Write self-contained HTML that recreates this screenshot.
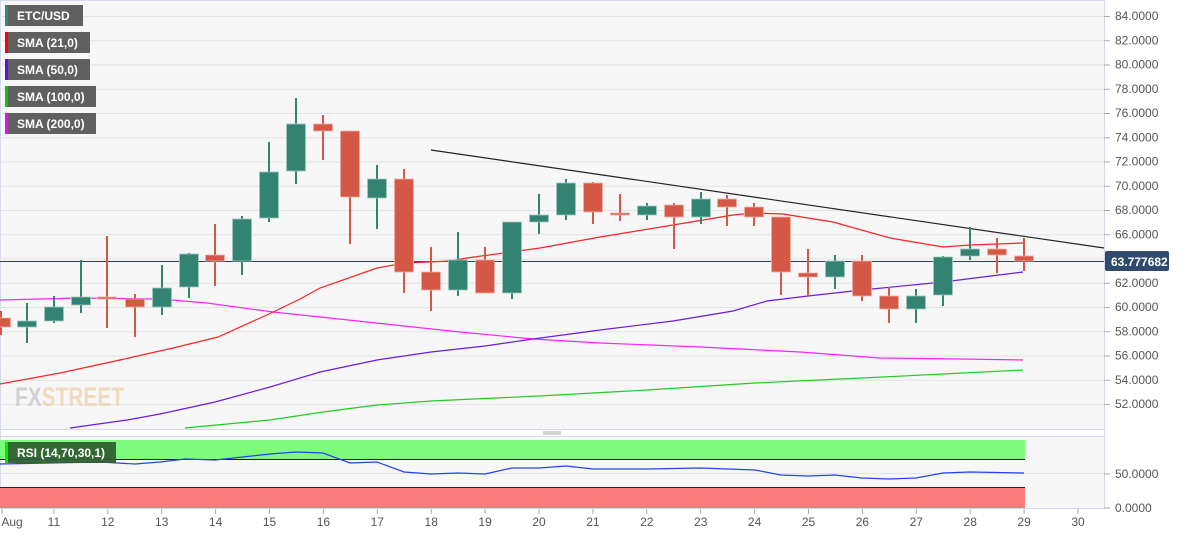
<!DOCTYPE html>
<html><head><style>
body{margin:0;background:#fff;font-family:"Liberation Sans",sans-serif;}
svg text{font-family:"Liberation Sans",sans-serif;}
</style></head><body>
<svg width="1194" height="535" xmlns="http://www.w3.org/2000/svg">
<rect x="0" y="0" width="1104" height="429" fill="#f7f7f7"/>
<rect x="0" y="437" width="1104" height="72" fill="#f7f7f7"/>
<line x1="0" y1="0.5" x2="1104" y2="0.5" stroke="#d5dbe8"/>
<line x1="0.5" y1="0" x2="0.5" y2="509" stroke="#d5dbe8"/>
<line x1="1104.5" y1="0" x2="1104.5" y2="509" stroke="#d5dbe8"/>
<line x1="0" y1="429.5" x2="1104" y2="429.5" stroke="#d5dbe8"/>
<line x1="0" y1="436.5" x2="1104" y2="436.5" stroke="#d5dbe8"/>
<g stroke="#aaa"><line x1="543" y1="432" x2="561" y2="432"/><line x1="543" y1="434" x2="561" y2="434"/></g>
<g id="grid" stroke="#e3e3e3" stroke-width="1"></g>
<g id="ylab" font-size="12" fill="#555"></g>
<text x="15" y="406" font-size="27" font-weight="bold" fill="#cfcfcf" opacity="0.9" textLength="109" lengthAdjust="spacingAndGlyphs">FX<tspan fill="#efd9b8">STREET</tspan></text>
<line x1="0" y1="261.5" x2="1104" y2="261.5" stroke="#2c4162" stroke-width="1"/>
<polyline fill="none" stroke="#ff22ff" stroke-width="1.2" points="0,300 80,298 160,299 207,303 273,312 367,322 450,331 533,339 600,343 700,347 800,352 880,358 960,359 1023,360"/>
<polyline fill="none" stroke="#22cc22" stroke-width="1.2" points="185,428 270,420 323,412 377,405 431,401 539,396 647,390 755,383 862,378 943,374 1023,370"/>
<polyline fill="none" stroke="#6a1be8" stroke-width="1.2" points="70,428 127,420 160,414 215,402 270,387 320,372 377,360 431,352 485,346 533,339 600,330 673,321 733,311 767,301 808,296 862,290 943,282 1023,272"/>
<polyline fill="none" stroke="#ff2222" stroke-width="1.2" points="0,384 60,373 120,360 173,348 218,337 269,314 300,299 320,288 377,268 405,263 450,261 467,258 540,248 600,237 673,225 733,215 753,213 783,214 833,222 890,238 943,247 970,245 1023,243"/>
<line x1="431" y1="150" x2="1104" y2="248" stroke="#222" stroke-width="1.2"/>
<g id="candles"></g>
<rect x="1105" y="251" width="64" height="20" rx="2" fill="#2f4a6d"/>
<text x="1111" y="266" font-size="12" font-weight="bold" fill="#fff">63.777682</text>
<g font-size="12" font-weight="bold" fill="#fff">
<rect x="5" y="5" width="78" height="21" fill="#606060"/><rect x="5" y="5" width="3" height="21" fill="#2f8a74"/><text x="17" y="20">ETC/USD</text>
<rect x="5" y="32" width="85" height="21" fill="#606060"/><rect x="5" y="32" width="3" height="21" fill="#ff0000"/><text x="17" y="47">SMA (21,0)</text>
<rect x="5" y="59" width="85" height="21" fill="#606060"/><rect x="5" y="59" width="3" height="21" fill="#5a10e8"/><text x="17" y="74">SMA (50,0)</text>
<rect x="5" y="86" width="91" height="21" fill="#606060"/><rect x="5" y="86" width="3" height="21" fill="#00cc00"/><text x="17" y="101">SMA (100,0)</text>
<rect x="5" y="113" width="91" height="21" fill="#606060"/><rect x="5" y="113" width="3" height="21" fill="#ff00ff"/><text x="17" y="128">SMA (200,0)</text>
</g>
<rect x="0" y="440" width="1025" height="19" fill="#7dfb7d"/>
<line x1="0" y1="459.5" x2="1025" y2="459.5" stroke="#222"/>
<line x1="0" y1="473.5" x2="1104" y2="473.5" stroke="#e3e3e3"/>
<rect x="0" y="488" width="1025" height="20" fill="#fa7b7b"/>
<line x1="0" y1="487.5" x2="1025" y2="487.5" stroke="#222"/>
<polyline fill="none" stroke="#2244ee" stroke-width="1.2" points="0,464 50,463 100,462 135,464 160,462 185,459 215,460 270,454 296,452 323,453 350,463 377,462 404,472 431,474 458,473 485,474 512,468 539,468 566,466 593,469 647,469 701,468 755,470 781,475 808,476 835,475 862,478 889,479 916,478 943,473 970,472 1024,473"/>
<rect x="5" y="442" width="111" height="21" fill="#2f5f2f" opacity="0.95"/><rect x="5" y="442" width="3" height="21" fill="#00ee00"/>
<text x="17" y="457" font-size="12" font-weight="bold" fill="#fff">RSI (14,70,30,1)</text>
<g font-size="12" fill="#555"><text x="1115" y="478">50.0000</text><text x="1115" y="512">0.0000</text></g>
<g stroke="#aaa"><line x1="1104" y1="474" x2="1110" y2="474"/><line x1="1104" y1="508" x2="1110" y2="508"/></g>
<line x1="0" y1="508.5" x2="1104" y2="508.5" stroke="#d5dbe8"/>
<g id="xlab" font-size="12" fill="#555" text-anchor="middle"></g>
</svg>
<script>
var ns="http://www.w3.org/2000/svg";
function el(p,t,a,txt){var e=document.createElementNS(ns,t);for(var k in a)e.setAttribute(k,a[k]);if(txt!=null)e.textContent=txt;document.getElementById(p).appendChild(e);}
for(var v=52;v<=84;v+=2){var y=16+(84-v)*12.125;el("grid","line",{x1:0,x2:1104,y1:y+.5,y2:y+.5});el("grid","line",{x1:1104,x2:1110,y1:y+.5,y2:y+.5,stroke:"#aaa"});el("ylab","text",{x:1115,y:y+4},v.toFixed(4));}
var days=["Aug","11","12","13","14","15","16","17","18","19","20","21","22","23","24","25","26","27","28","29","30"];
for(var i=0;i<days.length;i++){var x=i==0?2:0+i*53.9;el("xlab","line",{x1:x,x2:x,y1:509,y2:514,stroke:"#aaa"});el("xlab","text",{x:i==0?12:x,y:526},days[i]);}
var C=[[1,311,318,327,335,0],[27,303,321,327,343,1],[54,296,307,321,323,1],[81,260,297,305,313,1],[107,236,297,299,328,0],[135,294,299,307,337,0],[162,265,288,307,315,1],[189,253,254,287,298,1],[215,224,255,261,286,0],[242,216,219,261,275,1],[269,142,172,218,222,1],[296,98,124,171,184,1],[323,115,124,131,160,0],[350,131,131,197,244,0],[377,165,179,198,229,1],[404,169,179,272,293,0],[431,247,272,290,311,0],[458,232,260,290,296,1],[485,247,260,293,293,0],[512,222,222,293,299,1],[539,194,215,222,234,1],[566,179,183,215,220,1],[593,182,183,212,224,0],[620,194,213,215,221,0],[647,203,206,215,220,1],[674,203,205,217,249,0],[701,192,199,217,224,1],[727,195,199,207,226,0],[754,203,207,217,226,0],[781,217,217,272,295,0],[808,249,273,277,296,0],[835,255,261,277,289,1],[862,255,261,296,301,0],[889,287,296,309,323,0],[916,289,296,309,323,1],[943,256,257,295,306,1],[970,227,249,256,260,1],[997,238,249,255,273,0],[1024,238,256,261,271,0]];
C.forEach(function(c){var col=c[5]?"#338373":"#d55846";el("candles","line",{x1:c[0],x2:c[0],y1:c[1],y2:c[4],stroke:col,"stroke-width":2});el("candles","rect",{x:c[0]-9.5,y:c[2],width:19,height:Math.max(2,c[3]-c[2]),fill:col,stroke:c[5]?"#9fc9bf":"#f0b0a6","stroke-width":0.8});});
</script>
</body></html>
